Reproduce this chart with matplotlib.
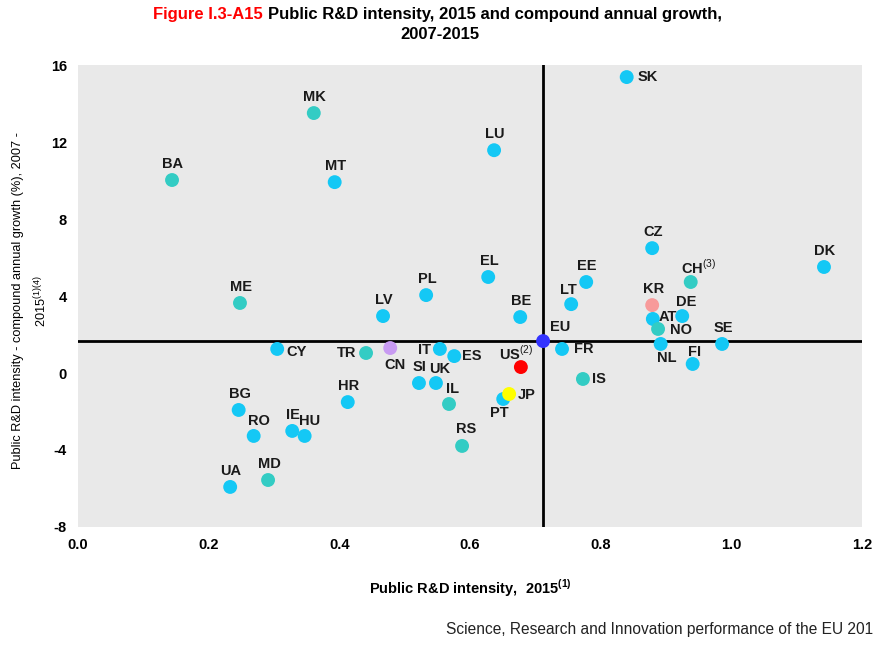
import matplotlib.pyplot as plt

plt.rcParams['font.family'] = ['Liberation Sans', 'DejaVu Sans']
plt.rcParams['mathtext.fontset'] = 'custom'
plt.rcParams['mathtext.rm'] = 'Liberation Sans'
plt.rcParams['mathtext.bf'] = 'Liberation Sans:bold'
plt.rcParams['axes.unicode_minus'] = False

# country codes, public R&D intensity 2015, compound annual growth 2007-2015
paises = ['SK', 'MK', 'BA', 'MT', 'LU', 'CZ', 'DK', 'EL', 'ME', 'PL', 'LV',
          'CH$^{(3)}$', 'KR', 'AT', 'DE', 'NO', 'NL', 'SE', 'FI', 'EE', 'LT',
          'BE', 'EU', 'FR', 'IS', 'US$^{(2)}$', 'JP', 'PT', 'CY', 'TR', 'CN',
          'IT', 'ES', 'SI', 'UK', 'IL', 'RS', 'HR', 'BG', 'RO', 'IE', 'HU',
          'UA', 'MD']
intensidade = [0.840, 0.361, 0.144, 0.393, 0.637, 0.879, 1.142, 0.628, 0.248,
               0.533, 0.467, 0.938, 0.879, 0.880, 0.925, 0.888, 0.892, 0.986,
               0.941, 0.778, 0.755, 0.677, 0.712, 0.741, 0.773, 0.678, 0.660,
               0.651, 0.305, 0.441, 0.478, 0.554, 0.576, 0.522, 0.548, 0.568,
               0.588, 0.413, 0.246, 0.269, 0.328, 0.347, 0.233, 0.291]
crescimento = [15.38, 13.51, 10.03, 9.92, 11.58, 6.49, 5.51, 4.99, 3.64, 4.05,
               2.96, 4.73, 3.53, 2.81, 2.96, 2.29, 1.51, 1.51, 0.47, 4.73, 3.58,
               2.91, 1.66, 1.25, -0.31, 0.31, -1.09, -1.35, 1.25, 1.04, 1.30,
               1.25, 0.88, -0.52, -0.52, -1.61, -3.79, -1.51, -1.92, -3.27,
               -3.01, -3.27, -5.92, -5.56]
grupo = ['ue', 'out', 'out', 'ue', 'ue', 'ue', 'ue', 'ue', 'out', 'ue', 'ue',
         'out', 'kr', 'ue', 'ue', 'out', 'ue', 'ue', 'ue', 'ue', 'ue', 'ue',
         'eu', 'ue', 'out', 'us', 'jp', 'ue', 'ue', 'out', 'cn', 'ue', 'ue',
         'ue', 'ue', 'out', 'out', 'ue', 'ue', 'ue', 'ue', 'ue', 'ue', 'out']

cores = {'ue': '#14C8F5', 'out': '#33CCC4', 'kr': '#F79A9A', 'cn': '#C89BF2',
         'us': '#FF0000', 'jp': '#FFFF00', 'eu': '#3333FF'}

# deslocamento dos rotulos (pixels), padrao = acima do ponto
desloc = {'SK': (21, 0), 'CH$^{(3)}$': (8, 15), 'AT': (15, 2), 'NO': (23, -1),
          'NL': (6, -14), 'FI': (2, 12), 'DE': (4, 14), 'EU': (17, 14),
          'FR': (22, 0), 'IS': (16, 0), 'US$^{(2)}$': (-5, 14), 'JP': (18, -1),
          'PT': (-4, -14), 'CY': (19, -3), 'TR': (-19, 0), 'CN': (5, -17),
          'IT': (-15, -1), 'ES': (18, 0), 'UK': (4, 14), 'IL': (4, 15),
          'RS': (4, 17), 'RO': (5, 15), 'HU': (5, 15), 'LT': (-3, 14)}

fig = plt.figure(figsize=(8.75, 6.45), dpi=100)
ax = fig.add_axes([0.0891, 0.183, 0.8959, 0.716])
ax.set_facecolor('#E9E9E9')

ax.axhline(crescimento[paises.index('EU')], color='black', lw=2, zorder=1)
ax.axvline(intensidade[paises.index('EU')], color='black', lw=2, zorder=1)

for nome, x, y, g in zip(paises, intensidade, crescimento, grupo):
    z = 3 if g in ('ue', 'out') else 3.5
    ax.scatter(x, y, s=100, color=cores[g], edgecolors='none', zorder=z)
    dx, dy = desloc.get(nome, (1, 16))
    ax.annotate(nome, (x, y), xytext=(dx, dy), textcoords='offset pixels',
                ha='center', va='center', fontsize=10.5, fontweight='bold',
                color='#1A1A1A', zorder=4)

ax.set_xlim(0, 1.2)
ax.set_ylim(-8, 16)
ax.set_xticks([0, 0.2, 0.4, 0.6, 0.8, 1.0, 1.2])
ax.set_xticklabels(['0.0', '0.2', '0.4', '0.6', '0.8', '1.0', '1.2'])
ax.set_yticks(range(-8, 17, 4))
for s in ax.spines.values():
    s.set_visible(False)
ax.tick_params(length=0, labelsize=10.5, pad=8)
for lbl in ax.get_xticklabels() + ax.get_yticklabels():
    lbl.set_fontweight('bold')

ax.set_xlabel(r'Public R&D intensity,  2015$^{\mathbf{(1)}}$', fontsize=10.5,
              fontweight='bold', labelpad=18)
ax.set_ylabel('Public R&D intensity - compound annual growth (%), 2007 -\n'
              r'2015$^{(1)(4)}$', fontsize=9.2, linespacing=1.65,
              va='center')
ax.yaxis.set_label_coords(-0.06, 0.49)

# titulo com parte em vermelho
t1 = fig.text(0, 0.978, 'Figure I.3-A15 ', color='red', fontsize=12,
              fontweight='bold', va='center')
t2 = fig.text(0, 0.978, 'Public R&D intensity, 2015 and compound annual growth,',
              color='black', fontsize=12, fontweight='bold', va='center')
fig.canvas.draw()
r = fig.canvas.get_renderer()
w1 = t1.get_window_extent(r).width / fig.bbox.width
w2 = t2.get_window_extent(r).width / fig.bbox.width
x0 = 0.5 - (w1 + w2) / 2
t1.set_x(x0)
t2.set_x(x0 + w1)
fig.text(0.503, 0.947, '2007-2015', fontsize=12, fontweight='bold',
         ha='center', va='center')

fig.text(0.998, 0.012, 'Science, Research and Innovation performance of the EU 201',
         fontsize=11.2, color='#222222', va='bottom', ha='right')

plt.savefig('out.png')
